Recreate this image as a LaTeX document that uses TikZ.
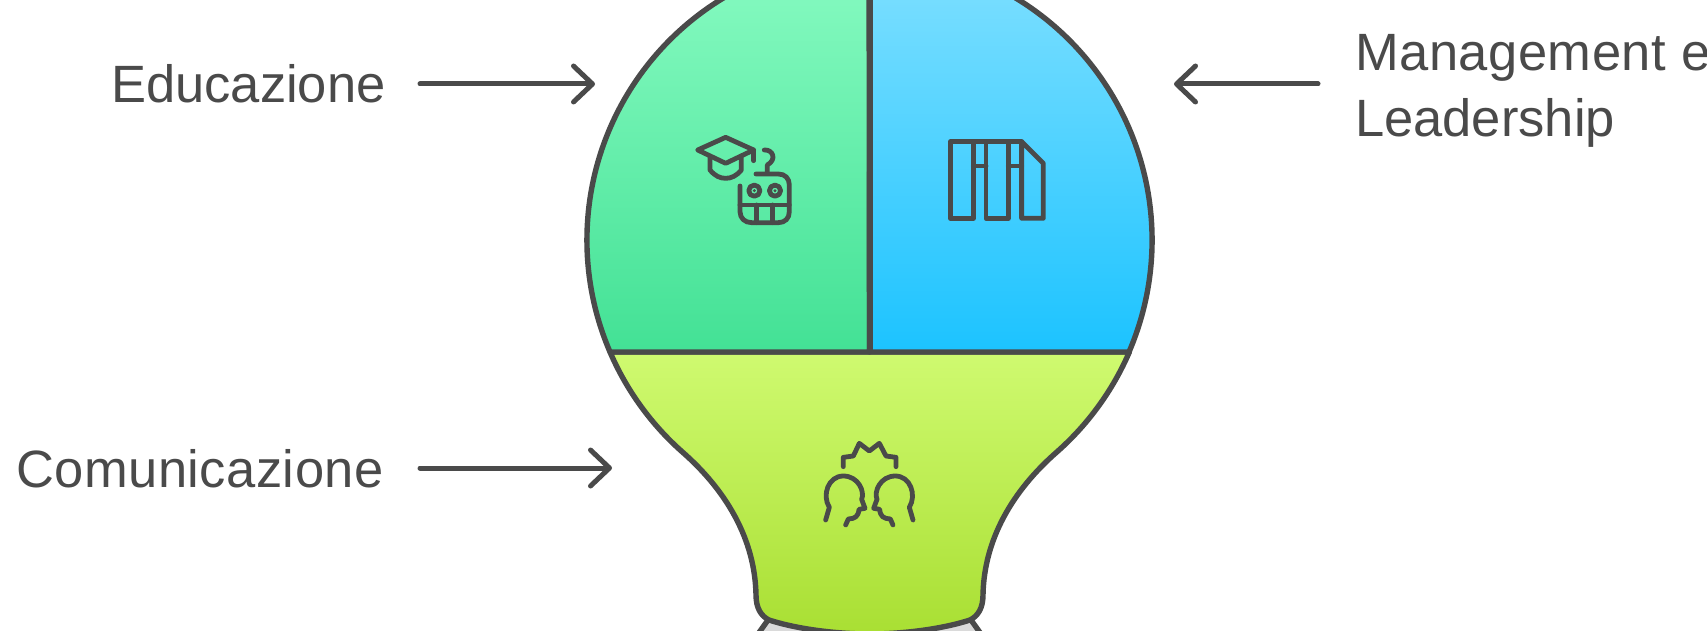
\documentclass[tikz,border=0pt]{standalone}
\usepackage{fontspec}
\setmainfont{Liberation Sans}
\usetikzlibrary{arrows.meta}
\definecolor{ink}{HTML}{4A4A4A}
\definecolor{greenA}{HTML}{88FBC2}
\definecolor{greenB}{HTML}{43E195}
\definecolor{blueA}{HTML}{80E0FF}
\definecolor{blueB}{HTML}{1CC3FF}
\definecolor{limeA}{HTML}{CFFA70}
\definecolor{limeB}{HTML}{A9DF33}
\definecolor{baseGray}{HTML}{DADADA}
\tikzset{
  outline/.style={draw=ink,line width=5.4pt,line join=round,line cap=round},
  iconline/.style={draw=ink,line width=4.8pt,line join=round,line cap=round},
  pointer/.style={draw=ink,line width=5pt,line cap=round,-{Straight Barb[length=19pt,width=36pt,round]}},
  caption/.style={text=ink,inner sep=0pt,font=\fontsize{52.5}{67}\selectfont,anchor=base west}
}
\begin{document}
\begin{tikzpicture}[x=1pt,y=-1pt]
\useasboundingbox (0,0) rectangle (1707,631);
\clip (0,0) rectangle (1707,631);
% screw base
\fill[baseGray] (768,620) -- (971,620) -- (980,640) -- (760,640) -- cycle;
\draw[outline] (768,620) -- (758,634);
\draw[outline] (971,620) -- (981,634);
% lime lower part
\path[top color=limeA,bottom color=limeB,outline]
  (610,352) arc[start angle=203.3,end angle=228.4,radius=283pt]
  .. controls (727,491) and (755,540) .. (756,595)
  .. controls (756,608) and (761,616) .. (769,620)
  .. controls (800,630) and (840,634) .. (869.5,634)
  .. controls (899,634) and (939,630) .. (970,620)
  .. controls (978,616) and (983,608) .. (983,595)
  .. controls (984,540) and (1012,491) .. (1057.4,451.5)
  arc[start angle=-48.4,end angle=-23.3,radius=283pt] -- cycle;
% green and blue upper parts
\path[top color=greenA,bottom color=greenB,outline]
  (869.5,352) -- (610,352) arc[start angle=203.3,end angle=90,radius=283pt] -- cycle;
\path[top color=blueA,bottom color=blueB,outline]
  (869.5,352) -- (1129,352) arc[start angle=-23.3,end angle=90,radius=283pt] -- cycle;
\draw[outline,line width=6pt,line cap=butt] (869.5,-5) -- (869.5,352);
% labels
\node[caption] (edu) at (111,103) {Educazione};
\node[caption] (com) at (16,487) {\addfontfeature{LetterSpace=0.9}Comunicazione};
\node[caption] (man) at (1355,71) {\addfontfeature{LetterSpace=1}Management e};
\node[caption] (lead) at (1355,137) {Leadership};
% arrows
\coordinate (eduS) at (420,84);
\coordinate (eduT) at (595,84);
\coordinate (comS) at (420,468);
\coordinate (comT) at (612,468);
\coordinate (manS) at (1318,84);
\coordinate (manT) at (1174,84);
\draw[pointer] (eduS) -- (eduT);
\draw[pointer] (comS) -- (comT);
\draw[pointer] (manS) -- (manT);
% cap and robot icon
\begin{scope}[shift={(660,110)},x=0.3333pt,y=-0.3333pt]
  \path[iconline] (113,120) -- (197,82) -- (281,120) -- (197,160) -- cycle;
  \path[iconline] (281,120) -- (281,152);
  \path[iconline] (150,140) -- (150,180) .. controls (165,198) and (180,205) .. (197,205) .. controls (214,205) and (229,198) .. (244,180) -- (244,140);
  \path[iconline] (313,120) .. controls (338,118) and (352,148) .. (322,165) -- (322,190);
  \path[iconline] (288,192) -- (355,192) .. controls (375,192) and (388,205) .. (388,225) -- (388,305) .. controls (388,325) and (375,338) .. (355,338) -- (275,338) .. controls (255,338) and (240,325) .. (240,305) -- (240,228);
  \path[iconline] (283,242) circle[radius=5.6pt];
  \path[iconline] (345,242) circle[radius=5.6pt];
  \fill[ink] (283,242) circle[radius=1.6pt];
  \fill[ink] (345,242) circle[radius=1.6pt];
  \path[iconline] (240,285) -- (388,285);
  \path[iconline] (290,285) -- (290,338);
  \path[iconline] (338,285) -- (338,338);
  % books
  \path[iconline] (940,95) -- (872,95) -- (872,325) -- (940,325) -- (940,95);
  \path[iconline] (940,95) -- (1085,95);
  \path[iconline] (978,95) -- (978,325) -- (1045,325) -- (1045,95);
  \path[iconline] (1085,95) -- (1150,160) -- (1150,325) -- (1085,325) -- cycle;
  \path[iconline] (940,168) -- (978,168);
  \path[iconline] (1045,168) -- (1085,168);
\end{scope}
% people icon
\begin{scope}[shift={(780,420)},x=0.3333pt,y=-0.3333pt]
  \path[iconline] (190,140) -- (190,112) -- (220,108) -- (238,70) -- (268,93) -- (298,70) -- (318,108) -- (348,112) -- (348,140);
  \path[iconline] (137,300) -- (148,262) .. controls (125,225) and (145,168) .. (190,168) .. controls (235,168) and (255,215) .. (245,238) -- (255,265) -- (237,268) .. controls (235,290) and (225,296) .. (205,297) -- (197,315);
  \path[iconline] (399,300) -- (388,262) .. controls (411,225) and (391,168) .. (346,168) .. controls (301,168) and (281,215) .. (291,238) -- (281,265) -- (299,268) .. controls (301,290) and (311,296) .. (331,297) -- (339,315);
\end{scope}
\end{tikzpicture}
\end{document}
